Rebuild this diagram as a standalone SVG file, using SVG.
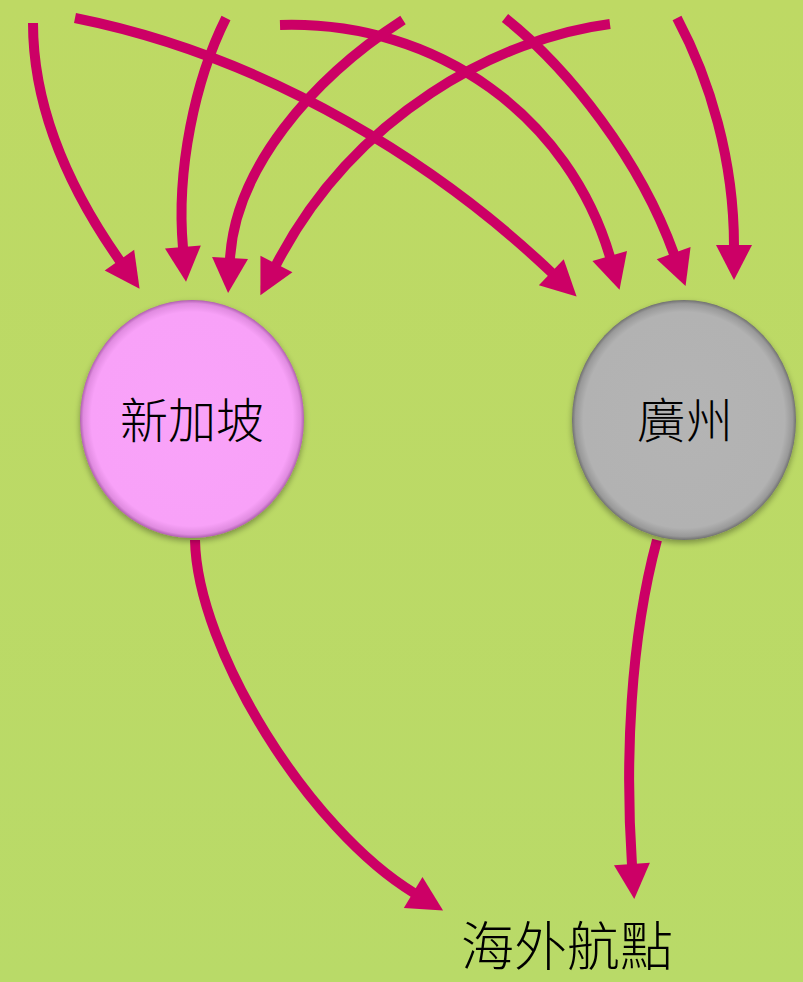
<svg xmlns="http://www.w3.org/2000/svg" width="803" height="982" viewBox="0 0 803 982">
<style>
.edge{fill:none;stroke:#cc0066;stroke-width:10;marker-end:url(#ah)}
.lbl{font-family:"Noto Sans CJK TC","Noto Sans CJK SC",sans-serif;font-weight:300;fill:#000;text-anchor:middle}
</style>
<defs>
<linearGradient id="bg" x1="0" y1="0" x2="0" y2="1">
<stop offset="0" stop-color="#bed964"/>
<stop offset="1" stop-color="#b9da68"/>
</linearGradient>
<radialGradient id="gPink" cx="0.5" cy="0.5" r="0.5">
<stop offset="0" stop-color="#f9a3f9"/>
<stop offset="0.9" stop-color="#f8a1f8"/>
<stop offset="0.97" stop-color="#e08be0"/>
<stop offset="1" stop-color="#b060b0"/>
</radialGradient>
<radialGradient id="gGray" cx="0.5" cy="0.5" r="0.5">
<stop offset="0" stop-color="#b4b4b4"/>
<stop offset="0.9" stop-color="#b2b2b2"/>
<stop offset="0.97" stop-color="#999"/>
<stop offset="1" stop-color="#707070"/>
</radialGradient>
<filter id="sh" x="-20%" y="-20%" width="140%" height="140%">
<feGaussianBlur in="SourceAlpha" stdDeviation="3"/>
<feOffset dx="0" dy="3" result="b"/>
<feComponentTransfer><feFuncA type="linear" slope="0.35"/></feComponentTransfer>
<feMerge><feMergeNode/><feMergeNode in="SourceGraphic"/></feMerge>
</filter>
<marker id="ah" markerUnits="userSpaceOnUse" markerWidth="36" markerHeight="36" refX="1" refY="18" orient="auto" overflow="visible">
<path d="M0,0 L35,18 L0,36 z" fill="#cc0066"/>
</marker>
</defs>
<rect width="803" height="982" fill="url(#bg)"/>
<g id="connectors">
<path class="edge" d="M33,23 C33,110 70,190 120,261"/>
<path class="edge" d="M75,18 C275,58 444,170 552,273"/>
<path class="edge" d="M226,18 C195,80 176,170 183,248"/>
<path class="edge" d="M280,25 C440,20 570,120 610,257"/>
<path class="edge" d="M403,20 C310,80 235,170 230,259"/>
<path class="edge" d="M505,18 C570,70 640,160 674,254"/>
<path class="edge" d="M610,24 C500,38 354,114 276,265"/>
<path class="edge" d="M677,18 C710,80 734,160 734,246"/>
<path class="edge" d="M195,540 C197,650 310,830 414,893"/>
<path class="edge" d="M657,540 C630,640 625,760 632,865"/>
</g>
<g id="node-singapore">
<ellipse cx="192" cy="419" rx="112" ry="119" fill="url(#gPink)" filter="url(#sh)"/>
<text class="lbl" x="192" y="438" font-size="48">新加坡</text>
</g>
<g id="node-guangzhou">
<ellipse cx="684" cy="420" rx="112" ry="120" fill="url(#gGray)" filter="url(#sh)"/>
<text class="lbl" x="685" y="438" font-size="48">廣州</text>
</g>
<g id="node-overseas">
<text class="lbl" x="567" y="966" font-size="53">海外航點</text>
</g>
</svg>
